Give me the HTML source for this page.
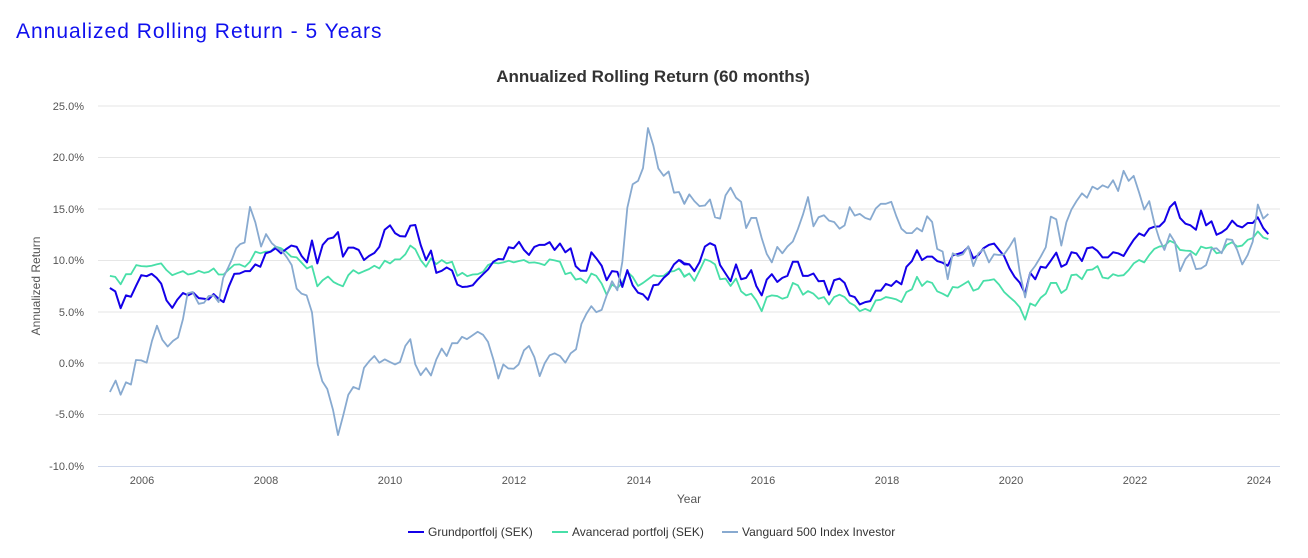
<!DOCTYPE html>
<html><head><meta charset="utf-8"><style>
body{margin:0;background:#fff;width:1308px;height:553px;overflow:hidden;font-family:"Liberation Sans",sans-serif}
</style></head><body>
<svg width="1308" height="553" xmlns="http://www.w3.org/2000/svg" font-family="Liberation Sans, sans-serif">
<text x="16" y="38" font-size="21" fill="#1010ee" letter-spacing="1">Annualized Rolling Return - 5 Years</text>
<text x="653" y="82" font-size="17" font-weight="bold" fill="#333" text-anchor="middle">Annualized Rolling Return (60 months)</text>
<g stroke="#e6e6e6" stroke-width="1">
<line x1="98" x2="1280" y1="106" y2="106"/><line x1="98" x2="1280" y1="157.5" y2="157.5"/><line x1="98" x2="1280" y1="209" y2="209"/><line x1="98" x2="1280" y1="260.5" y2="260.5"/><line x1="98" x2="1280" y1="312" y2="312"/><line x1="98" x2="1280" y1="363" y2="363"/><line x1="98" x2="1280" y1="414.5" y2="414.5"/>
</g>
<line x1="98" x2="1280" y1="466.5" y2="466.5" stroke="#ccd6eb"/>
<g font-size="11" fill="#555" text-anchor="end">
<text x="84" y="110">25.0%</text><text x="84" y="161">20.0%</text><text x="84" y="213">15.0%</text><text x="84" y="264">10.0%</text><text x="84" y="316">5.0%</text><text x="84" y="367">0.0%</text><text x="84" y="418">-5.0%</text><text x="84" y="470">-10.0%</text>
</g>
<g font-size="11" fill="#555" text-anchor="middle">
<text x="142" y="484">2006</text><text x="266" y="484">2008</text><text x="390" y="484">2010</text><text x="514" y="484">2012</text><text x="639" y="484">2014</text><text x="763" y="484">2016</text><text x="887" y="484">2018</text><text x="1011" y="484">2020</text><text x="1135" y="484">2022</text><text x="1259" y="484">2024</text>
</g>
<text x="689" y="503" font-size="12" fill="#555" text-anchor="middle">Year</text>
<text transform="translate(40,286) rotate(-90)" font-size="12" fill="#555" text-anchor="middle">Annualized Return</text>
<g fill="none" stroke-linejoin="round">
<g transform="translate(90,90) scale(0.3827,0.3367)">
<polyline vector-effect="non-scaling-stroke" stroke="#48dfa8" stroke-width="1.8" points="52,552 66,555 80,577 94,547 107,547 121,520 134,523 148,524 161,522 174,518 186,515 200,535 215,550 228,544 243,538 256,548 270,545 284,537 298,543 310,540 323,530 336,548 349,548 363,533 377,519 391,518 405,525 418,510 432,480 445,485 459,480 472,480 485,465 499,470 512,480 526,495 540,497 553,513 567,530 580,523 594,583 608,565 622,554 636,570 648,577 661,583 675,550 688,535 702,545 716,538 729,532 743,522 756,530 770,507 784,515 797,503 810,503 824,488 837,462 850,473 864,505 878,525 891,500 905,517 919,505 932,515 946,510 960,552 973,543 986,553 1000,548 1013,547 1027,540 1040,520 1054,513 1067,515 1080,512 1094,507 1107,512 1121,508 1134,505 1147,513 1161,512 1174,515 1188,520 1201,503 1214,506 1228,510 1242,547 1256,542 1269,563 1282,560 1297,573 1310,545 1323,552 1337,575 1350,608 1364,578 1378,588 1391,573 1404,540 1418,555 1432,582 1445,573 1458,562 1472,550 1485,553 1499,552 1512,540 1526,538 1539,530 1553,553 1566,545"/>
<polyline vector-effect="non-scaling-stroke" stroke="#1400e8" stroke-width="2" points="52,588 66,598 80,648 94,610 107,614 121,580 134,550 148,553 161,546 174,558 186,575 200,625 215,647 228,623 243,603 256,610 270,602 284,618 298,620 310,622 323,606 336,620 349,630 363,583 377,546 391,545 405,538 418,538 432,518 445,525 459,485 472,480 485,470 499,485 512,473 526,462 540,466 553,493 567,512 580,447 594,515 608,460 622,442 636,438 648,422 661,495 675,468 688,468 702,475 716,505 729,493 743,484 756,466 770,415 784,402 797,425 810,434 824,435 837,403 850,401 864,460 878,505 891,477 905,543 919,537 932,527 946,536 960,578 973,585 986,584 1000,580 1013,563 1027,547 1040,533 1054,510 1067,502 1080,503 1094,467 1107,470 1121,451 1134,475 1147,490 1161,466 1174,460 1188,460 1201,452 1214,475 1228,456 1242,482 1256,470 1269,523 1282,537 1297,537 1310,482 1323,500 1337,522 1350,565 1364,538 1378,540 1391,585 1404,535 1418,580 1432,602 1445,607 1458,623 1472,580 1485,578 1499,558 1512,545 1526,518 1539,505 1553,518 1566,518"/>
<polyline vector-effect="non-scaling-stroke" stroke="#88aad0" stroke-width="1.8" points="52,897 67,863 80,905 94,868 107,875 120,802 134,803 148,810 162,745 175,700 189,742 203,762 217,745 230,735 243,680 255,604 268,600 284,635 298,632 310,612 323,610 336,630 348,558 360,530 372,500 382,470 392,458 404,453 418,347 432,393 447,465 460,428 475,455 490,470 502,478 515,498 527,520 540,590 553,605 566,610 580,660 595,815 607,865 620,888 635,950 648,1025 662,965 675,905 688,882 703,889 716,825 730,805 743,790 756,810 770,800 784,808 797,815 810,808 824,760 837,740 850,815 864,847 878,826 891,848 905,800 919,768 932,790 946,752 960,752 972,733 985,740 998,730 1013,718 1027,727 1040,748 1054,800 1067,857 1080,815 1093,827 1107,828 1120,815 1134,773 1147,760 1161,793 1175,850 1188,812 1201,788 1214,782 1228,790 1242,810 1256,782 1270,770 1284,695 1297,665 1310,642 1323,660 1337,653 1350,610 1364,568 1378,595 1391,510 1404,350 1418,280 1432,270 1445,232 1458,113 1472,165 1485,233 1499,255 1512,242 1526,305 1539,303 1553,338 1566,310"/>
</g>
<g transform="translate(680,90) scale(0.3891,0.3367)">
<polyline vector-effect="non-scaling-stroke" stroke="#48dfa8" stroke-width="1.8" points="0,532 11,555 24,545 37,567 50,537 64,503 77,508 90,518 103,562 117,560 130,582 144,560 157,598 170,610 183,605 196,625 210,657 223,615 236,610 250,612 263,620 276,615 290,573 303,580 316,608 329,597 343,605 356,620 370,615 383,637 396,615 410,608 423,615 436,632 449,640 462,657 476,650 489,657 503,625 516,623 529,615 543,618 556,622 569,630 582,600 596,592 609,555 622,582 635,568 648,573 661,598 675,605 688,613 701,585 714,587 727,578 741,568 754,596 767,590 780,567 794,565 807,562 820,578 833,600 847,615 860,628 873,645 887,682 900,634 913,641 927,617 940,605 953,573 967,573 980,603 993,592 1006,550 1019,548 1033,562 1046,535 1060,533 1073,523 1086,557 1100,560 1113,547 1126,552 1140,550 1153,535 1166,515 1180,505 1193,512 1206,490 1219,472 1232,465 1245,463 1259,448 1272,455 1285,475 1299,477 1312,478 1326,490 1339,465 1352,470 1366,467 1379,485 1392,482 1405,460 1419,452 1432,465 1445,462 1459,445 1472,440 1485,420 1499,438 1512,443"/>
<polyline vector-effect="non-scaling-stroke" stroke="#1400e8" stroke-width="2" points="0,505 11,515 24,518 37,538 50,512 64,465 77,455 90,462 103,520 117,545 130,568 144,518 157,562 170,558 183,535 196,582 210,610 223,563 236,547 250,570 263,558 276,552 290,510 303,510 316,552 329,552 343,545 356,568 370,567 383,608 396,565 410,560 423,573 436,610 449,615 462,637 476,630 489,627 503,596 516,596 529,576 543,582 556,567 569,577 582,525 596,508 609,476 622,505 635,495 648,495 661,508 675,513 688,522 701,491 714,487 727,482 741,466 754,500 767,490 780,470 794,460 807,456 820,475 833,493 847,530 860,555 873,572 887,605 900,543 913,562 927,525 940,528 953,507 967,483 980,525 993,517 1006,482 1019,485 1033,508 1046,470 1060,467 1073,478 1086,497 1100,497 1113,482 1126,485 1140,493 1153,468 1166,445 1180,426 1193,433 1206,412 1219,406 1232,405 1245,390 1259,348 1272,333 1285,380 1299,397 1312,402 1326,415 1339,358 1352,402 1366,390 1379,430 1392,423 1405,412 1419,388 1432,403 1445,408 1459,395 1472,395 1485,378 1499,410 1512,428"/>
<polyline vector-effect="non-scaling-stroke" stroke="#88aad0" stroke-width="1.8" points="0,308 11,338 24,310 37,330 50,345 64,343 77,325 90,378 103,382 117,313 130,290 144,320 157,332 170,410 183,380 196,380 210,440 223,487 236,512 250,466 263,485 276,465 290,450 303,413 316,370 329,318 343,405 356,378 370,372 383,388 396,392 410,412 423,402 436,348 449,373 462,368 476,380 489,385 503,352 516,338 529,338 543,332 556,375 569,412 582,425 596,425 609,410 622,420 635,375 648,392 661,472 675,480 688,562 701,485 714,493 727,488 741,464 754,523 767,485 780,473 794,512 807,488 820,490 833,488 847,465 860,440 873,540 887,616 900,542 913,522 927,495 940,467 953,376 967,384 980,462 993,393 1006,355 1019,330 1033,307 1046,320 1060,287 1073,295 1086,283 1100,290 1113,268 1126,300 1140,240 1153,270 1166,255 1180,305 1193,355 1206,330 1219,395 1232,443 1245,475 1259,428 1272,452 1285,538 1299,502 1312,485 1326,532 1339,530 1352,520 1366,472 1379,470 1392,485 1405,443 1419,445 1432,475 1445,518 1459,490 1472,450 1485,340 1499,382 1512,368"/>
</g>
</g>
<g font-size="12" fill="#333">
<line x1="408" x2="424" y1="532" y2="532" stroke="#1400e8" stroke-width="2"/><text x="428" y="536">Grundportfolj (SEK)</text>
<line x1="552" x2="568" y1="532" y2="532" stroke="#48dfa8" stroke-width="2"/><text x="572" y="536">Avancerad portfolj (SEK)</text>
<line x1="722" x2="738" y1="532" y2="532" stroke="#88aad0" stroke-width="2"/><text x="742" y="536">Vanguard 500 Index Investor</text>
</g>
</svg>
</body></html>
